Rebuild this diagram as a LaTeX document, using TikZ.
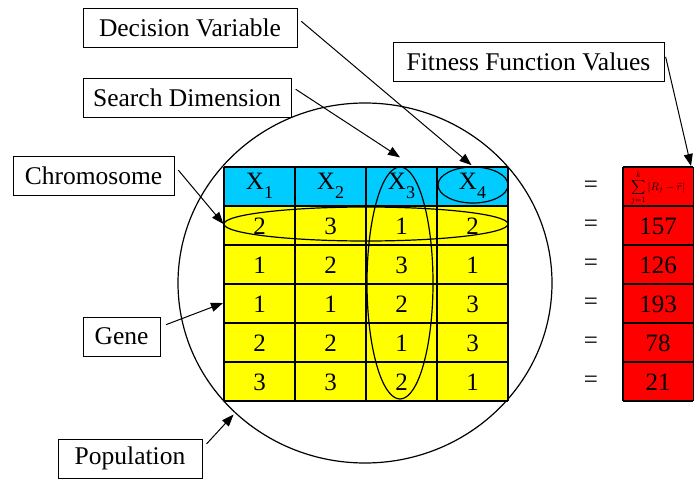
\documentclass[tikz,border=0pt]{standalone}
\usepackage{fontspec}
\newfontfamily\timesfont{Liberation Serif}
\usetikzlibrary{shapes.geometric,arrows.meta}
\definecolor{hdrblue}{RGB}{0,204,255}
\definecolor{genyellow}{RGB}{255,255,0}
\definecolor{fitred}{RGB}{255,0,0}
\newcommand{\xsub}[1]{X\raisebox{-0.35em}{\fontsize{18}{18}\selectfont #1}}
\tikzset{
  lbl/.style={draw, line width=1pt, minimum height=39, inner sep=0pt, font=\timesfont\fontsize{25.5}{30}\selectfont},
  val/.style={font=\timesfont\fontsize{25}{30}\selectfont, inner sep=0pt},
  ring/.style={draw, ellipse, inner sep=0pt, line width=1.2pt},
  ptr/.style={-{Triangle[length=12pt,width=9pt]}, line width=1pt},
}
\begin{document}
\begin{tikzpicture}[x=1pt,y=-1pt]
    \useasboundingbox (0,0) rectangle (694,479);

    % Population
    \node[ring, minimum width=374, minimum height=360] (popc) at (365,283) {};

    % Table of chromosomes
    \fill[hdrblue] (224,167) rectangle (508,206);
    \fill[genyellow] (224,206) rectangle (508,401);
    \foreach \x in {224,295,366,437,508}
        \draw[line width=1.2pt] (\x,167) -- (\x,401);
    \foreach \y in {167,206,...,401}
        \draw[line width=1.2pt] (224,\y) -- (508,\y);

    % Fitness column
    \fill[fitred] (623,167) rectangle (693.4,401);
    \foreach \y in {167,206,...,401}
        \draw[line width=1.2pt] (623,\y) -- (693.4,\y);
    \draw[line width=1.2pt] (623,167) -- (623,401);
    \draw[line width=1.2pt] (693.4,167) -- (693.4,401);

    % Header row
    \foreach \c in {1,...,4}
        \node[val] (h-\c) at ({224+71*\c-35.5},186) {\xsub{\c}};
    \node[val] (eq-0) at (591,186.5) {=};
    \node[inner sep=0pt, font=\fontsize{11}{12}\selectfont] (f-0) at (658,188)
        {$\displaystyle\sum_{j=1}^{k}\left|R_j-\bar{r}\right|$};

    % Genes and fitness values
    \foreach \r/\vals/\fv in {1/{2,3,1,2}/157, 2/{1,2,3,1}/126, 3/{1,1,2,3}/193,
                              4/{2,2,1,3}/78, 5/{3,3,2,1}/21} {
        \foreach \v [count=\c] in \vals
            \node[val] (g-\r-\c) at ({224+71*\c-35.5},{207+39*\r-19.5}) {\v};
        \node[val] (eq-\r) at (591,{206+39*\r-19.5}) {=};
        \node[val] (f-\r) at (658,{207+39*\r-19.5}) {\fv};
    }

    % Rings
    \node[ring, minimum width=284, minimum height=34] (chrom) at (366,224) {};
    \node[ring, minimum width=66, minimum height=232] (dim) at (400,283) {};
    \node[ring, minimum width=70, minimum height=36] (var) at (473,185) {};

    % Labels
    \node[lbl, minimum width=214] (dec) at (190,27.5) {Decision Variable};
    \node[lbl, minimum width=208] (sea) at (187,97.5) {Search Dimension};
    \node[lbl, minimum width=271] (fit) at (528.5,61.5) {Fitness Function Values};
    \node[lbl, minimum width=161] (chr) at (93.5,175.5) {Chromosome};
    \node[lbl, minimum width=77] (gen) at (121.5,336.5) {Gene};
    \node[lbl, minimum width=144] (pop) at (130,458.5) {Population};

    % Pointers
    \coordinate (gen-tip) at (223,303);
    \coordinate (fit-tip) at (691,166);
    \draw[ptr, shorten <=5pt, shorten >=2pt] (dec.5) -- (var.north);
    \draw[ptr, shorten <=5pt] (sea.6) -- ([yshift=9pt]dim.north);
    \draw[ptr, shorten <=5pt] (fit.4) -- (fit-tip);
    \draw[ptr, shorten <=6pt] (chr.7) -- (chrom.west);
    \draw[ptr, shorten <=6pt] (gen.14) -- (gen-tip);
    \draw[ptr, shorten <=6pt, shorten >=2pt] (pop.8) -- (popc.225);
\end{tikzpicture}
\end{document}
